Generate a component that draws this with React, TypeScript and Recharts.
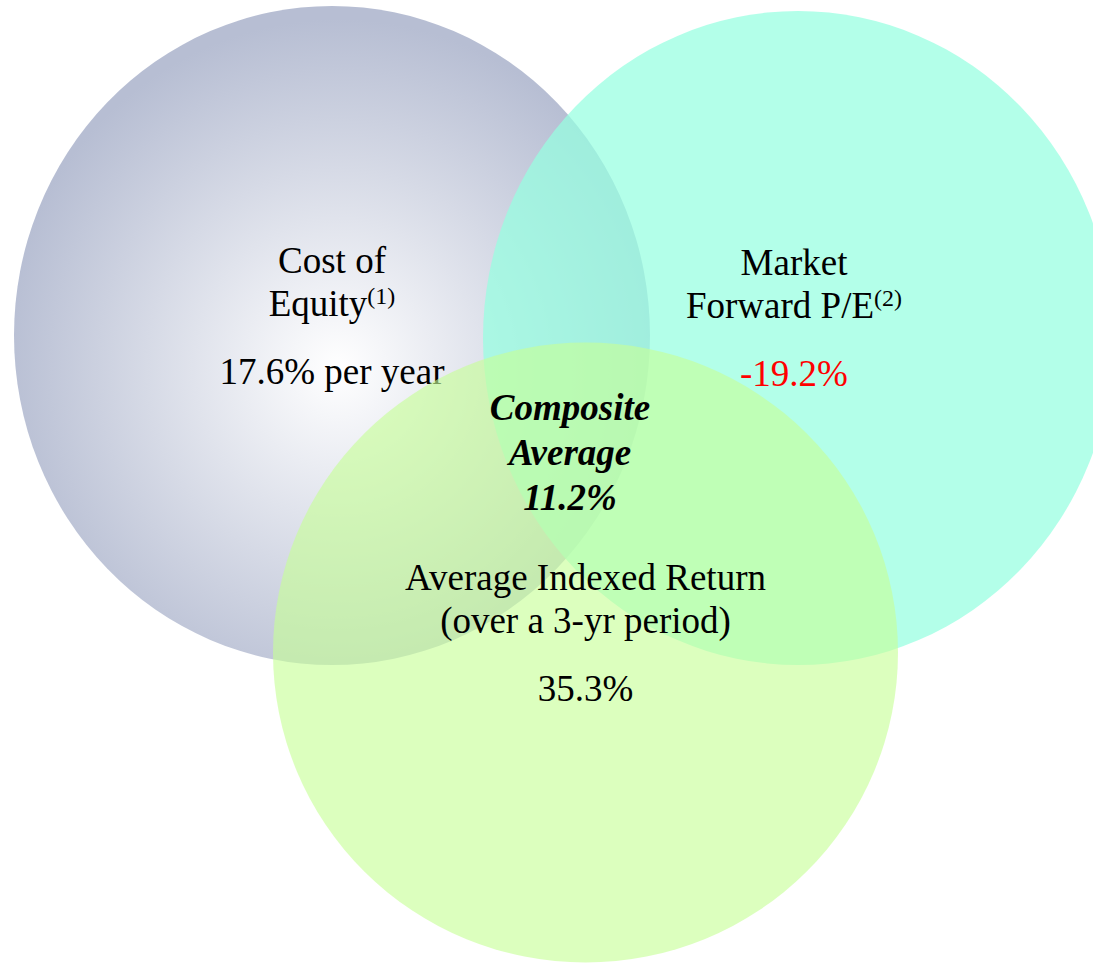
import { ScatterChart, Scatter, XAxis, YAxis } from 'recharts';

const W = 1093;
const H = 963;

// the three sets
const setTitles = [
  ['Cost of', 'Equity'],
  ['Market', 'Forward P/E'],
  ['Average Indexed Return', '(over a 3-yr period)'],
];
const setNotes = ['(1)', '(2)', ''];
const setValues = [17.6, -19.2, 35.3];
const setUnits = ['% per year', '%', '%'];

const compositeTitle = ['Composite', 'Average'];
const compositeValue = 11.2;

// diagram layout, in plot units
const centerX = [332, 798, 585.5];
const centerY = [335.5, 338, 652.5];
const radiusX = [318, 315, 312.5];
const radiusY = [329.5, 327, 310];
const labelShiftX = [0, -4, 0];
const compositeAt = { x: 570, y: 465 };

const FONT = '"Liberation Serif", "Times New Roman", Times, serif';
const FILLS = ['url(#equityGrad)', '#95ffe0', '#c6ff96'];
const OPACITY = [1, 0.72, 0.62];

const sets = setTitles.map((t, i) => ({
  title: t,
  note: setNotes[i],
  value: setValues[i],
  unit: setUnits[i],
  x: centerX[i],
  y: centerY[i],
  rx: radiusX[i],
  ry: radiusY[i],
  idx: i,
}));

const composite = [{ ...compositeAt, value: compositeValue }];

const SX = W / W; // px per unit along x (domain = plot width)
const SY = H / H;

const SetShape = (props: any) => {
  const { cx, cy, payload } = props;
  const i = payload.idx;
  const rx = payload.rx * SX;
  const ry = payload.ry * SY;
  const tx = cx + labelShiftX[i];
  return (
    <g>
      {i === 0 && (
        <defs>
          <radialGradient id="equityGrad" cx="51%" cy="55%" r="53%">
            <stop offset="0%" stopColor="#ffffff" />
            <stop offset="100%" stopColor="#b7bed3" />
          </radialGradient>
        </defs>
      )}
      <ellipse cx={cx} cy={cy} rx={rx} ry={ry} fill={FILLS[i]} fillOpacity={OPACITY[i]} />
      <text x={tx} y={cy - 63} textAnchor="middle" fontFamily={FONT} fontSize={37} fill="#000">
        {payload.title[0]}
      </text>
      <text x={tx} y={cy - 20} textAnchor="middle" fontFamily={FONT} fontSize={37} fill="#000">
        <tspan>{payload.title[1]}</tspan>
        {payload.note && (
          <tspan fontSize={24} dy={-12}>{payload.note}</tspan>
        )}
      </text>
      <text x={tx} y={cy + 48} textAnchor="middle" fontFamily={FONT} fontSize={37} fill={payload.value < 0 ? '#ff0000' : '#000'}>
        {payload.value.toFixed(1) + payload.unit}
      </text>
    </g>
  );
};

const CompositeShape = (props: any) => {
  const { cx, cy, payload } = props;
  return (
    <text x={cx} y={cy} textAnchor="middle" fontFamily={FONT} fontSize={37} fontWeight="bold" fontStyle="italic" fill="#000">
      <tspan x={cx} dy={-45}>{compositeTitle[0]}</tspan>
      <tspan x={cx} dy={45}>{compositeTitle[1]}</tspan>
      <tspan x={cx} dy={45}>{payload.value.toFixed(1)}%</tspan>
    </text>
  );
};

export default function App() {
  return (
    <div style={{ position: 'absolute', left: 0, top: 0, width: W, height: H, background: '#fff' }}>
      <ScatterChart width={W} height={H} margin={{ top: 0, right: 0, bottom: 0, left: 0 }}>
        <XAxis type="number" dataKey="x" domain={[0, W]} hide />
        <YAxis type="number" dataKey="y" domain={[0, H]} reversed hide />
        <Scatter data={sets} shape={SetShape} isAnimationActive={false} />
        <Scatter data={composite} shape={CompositeShape} isAnimationActive={false} />
      </ScatterChart>
    </div>
  );
}
